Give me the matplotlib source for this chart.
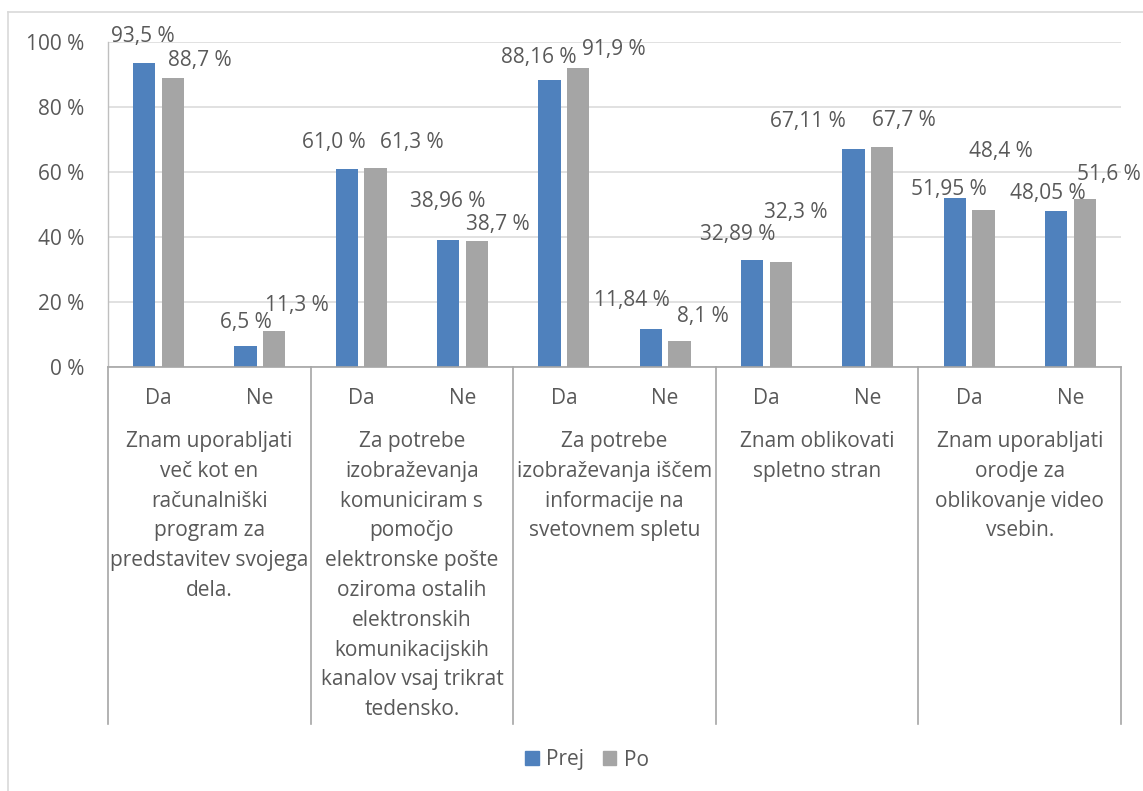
import matplotlib
matplotlib.use('Agg')
import matplotlib.pyplot as plt
import matplotlib.ticker as ticker
from matplotlib.lines import Line2D
from matplotlib.patches import Patch
import matplotlib.transforms as mtrans
import numpy as np

# ── Data ───────────────────────────────────────────────────────────────────
answers = ['Da', 'Ne'] * 5
questions = [
    'Znam uporabljati\nveč kot en\nračunalniški\nprogram za\npredstavitev svojega\ndela.',
    'Za potrebe\nizobraževanja\nkomuniciram s\npomočjo\nelektronske pošte\noziroma ostalih\nelektronskih\nkomunikacijskih\nkanalov vsaj trikrat\ntedensko.',
    'Za potrebe\nizobraževanja iščem\ninformacije na\nsvetovnem spletu',
    'Znam oblikovati\nspletno stran',
    'Znam uporabljati\norodje za\noblikovanje video\nvsebin.',
]
prej = [93.5, 6.5, 61.0, 38.96, 88.16, 11.84, 32.89, 67.11, 51.95, 48.05]
po   = [88.7, 11.3, 61.3, 38.7, 91.9, 8.1, 32.3, 67.7, 48.4, 51.6]
prej_dec = [1, 1, 1, 2, 2, 2, 2, 2, 2, 2]
po_dec   = [1, 1, 1, 1, 1, 1, 1, 1, 1, 1]

# hand-placed label offsets (pixels, relative to bar top centre)
prej_off = [(-1, 26), (0, 24), (-13, 26), (0, 39), (-11, 23),
            (-19, 28), (-14, 26), (-45, 27), (-6, 9), (-8, 17)]
po_off   = [(27, 18), (23, 25), (36, 25), (21, 17), (36, 19),
            (23, 24), (15, 50), (22, 26), (17, 58), (24, 25)]

# ── Style ──────────────────────────────────────────────────────────────────
FONT = 'Open Sans'
FS = 15
plt.rcParams.update({'font.family': FONT, 'font.size': FS})
TXT = '#595959'
BLUE = '#4F81BD'
GRAY = '#A5A5A5'
W, H = 1143, 791

fig = plt.figure(figsize=(W / 100, H / 100), dpi=100)
ax = fig.add_axes([108 / W, 1 - 367.3 / H, 1013 / W, 325.6 / H])

x = np.arange(len(prej))
width = 0.22
b1 = ax.bar(x - 0.142, prej, width, color=BLUE, zorder=2)
b2 = ax.bar(x + 0.142, po, width, color=GRAY, zorder=2)

def fmt(v, d):
    return f'{v:.{d}f}'.replace('.', ',') + ' %'

for bars, vals, decs, offs in [(b1, prej, prej_dec, prej_off), (b2, po, po_dec, po_off)]:
    for bar, v, d, (dx, dy) in zip(bars, vals, decs, offs):
        ax.annotate(fmt(v, d), (bar.get_x() + bar.get_width() / 2, v),
                    xytext=(dx, dy), textcoords='offset pixels',
                    ha='center', va='center', color=TXT, fontsize=FS)

ax.set_xlim(-0.5, len(prej) - 0.5)
ax.set_ylim(0, 100)
ax.set_yticks(np.arange(0, 101, 20))
ax.yaxis.set_major_formatter(ticker.FuncFormatter(lambda v, p: f'{v:.0f} %'))
ax.tick_params(axis='y', length=0, pad=17, labelcolor=TXT, labelsize=FS)
ax.set_xticks([])
ax.grid(True, axis='y', color='#D9D9D9', linewidth=1.1, zorder=0)
for s in ['top', 'right']:
    ax.spines[s].set_visible(False)
ax.spines['left'].set_color('#BFBFBF')
ax.spines['bottom'].set_color('#A6A6A6')
ax.spines['left'].set_linewidth(1.0)
ax.spines['bottom'].set_linewidth(1.2)

# two-level category axis
tr = mtrans.blended_transform_factory(ax.transData, ax.transAxes)
y_bottom = (367.3 - 724) / 325.6
for bx in np.arange(-0.5, len(prej), 2):
    ax.add_line(Line2D([bx, bx], [0, y_bottom], transform=tr, color='#A6A6A6',
                       linewidth=1.2, clip_on=False))
for xi, a in zip(x, answers):
    ax.text(xi, (367.3 - 398) / 325.6, a, transform=tr, ha='center', va='center',
            color=TXT, fontsize=FS)
for gi, q in enumerate(questions):
    ax.text(2 * gi + 0.5, (367.3 - 431) / 325.6, q, transform=tr, ha='center',
            va='top', color=TXT, fontsize=FS, linespacing=1.55)

# legend
handles = [Patch(color=BLUE, label='Prej'), Patch(color=GRAY, label='Po')]
fig.legend(handles=handles, loc='center', bbox_to_anchor=(587 / W, 1 - 760 / H),
           ncol=2, frameon=False, handlelength=0.65, handleheight=0.65,
           handletextpad=0.35, columnspacing=0.9, labelcolor=TXT, fontsize=FS)

# chart area border
fig.add_artist(Line2D([8 / W, 8 / W], [0, 1 - 12 / H], transform=fig.transFigure,
                      color='#D9D9D9', linewidth=1.2))
fig.add_artist(Line2D([8 / W, 1], [1 - 12 / H, 1 - 12 / H], transform=fig.transFigure,
                      color='#D9D9D9', linewidth=1.2))

fig.savefig('out.png', dpi=100)
